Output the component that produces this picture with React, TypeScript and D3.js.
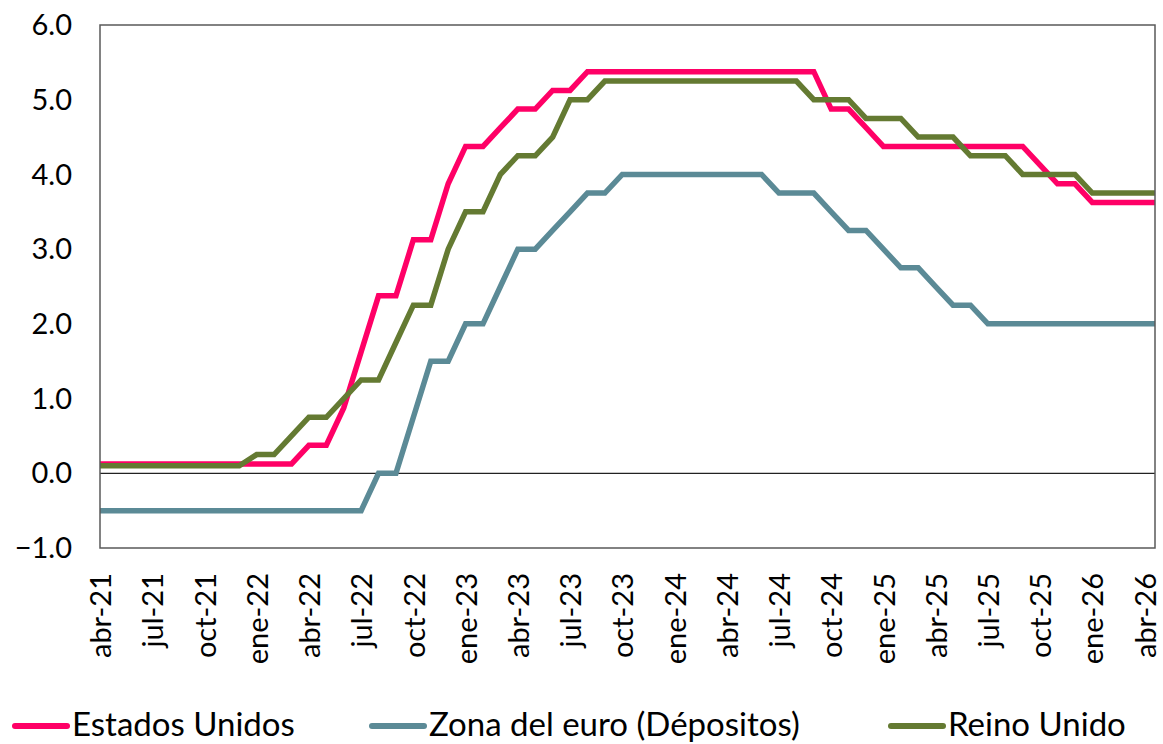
import React, { useEffect, useRef } from 'react';
import * as d3 from 'd3';

// Monthly policy rates, abr-21 .. abr-26 (61 months)
const usRate = [
  0.125, 0.125, 0.125, 0.125, 0.125, 0.125, 0.125, 0.125, 0.125, 0.125, 0.125, 0.125,
  0.375, 0.375, 0.875, 1.625, 2.375, 2.375, 3.125, 3.125, 3.875, 4.375, 4.375, 4.625,
  4.875, 4.875, 5.125, 5.125,
  5.375, 5.375, 5.375, 5.375, 5.375, 5.375, 5.375, 5.375, 5.375, 5.375, 5.375, 5.375, 5.375, 5.375,
  4.875, 4.875, 4.625,
  4.375, 4.375, 4.375, 4.375, 4.375, 4.375, 4.375, 4.375, 4.375,
  4.125, 3.875, 3.875, 3.625, 3.625, 3.625, 3.625,
];

const euroRate = [
  -0.5, -0.5, -0.5, -0.5, -0.5, -0.5, -0.5, -0.5, -0.5, -0.5, -0.5, -0.5, -0.5, -0.5, -0.5, -0.5,
  0, 0, 0.75, 1.5, 1.5, 2.0, 2.0, 2.5, 3.0, 3.0, 3.25, 3.5, 3.75, 3.75,
  4.0, 4.0, 4.0, 4.0, 4.0, 4.0, 4.0, 4.0, 4.0,
  3.75, 3.75, 3.75, 3.5, 3.25, 3.25, 3.0, 2.75, 2.75, 2.5, 2.25, 2.25,
  2.0, 2.0, 2.0, 2.0, 2.0, 2.0, 2.0, 2.0, 2.0, 2.0,
];

const ukRate = [
  0.1, 0.1, 0.1, 0.1, 0.1, 0.1, 0.1, 0.1, 0.1,
  0.25, 0.25, 0.5, 0.75, 0.75, 1.0, 1.25, 1.25, 1.75, 2.25, 2.25, 3.0, 3.5, 3.5,
  4.0, 4.25, 4.25, 4.5, 5.0, 5.0,
  5.25, 5.25, 5.25, 5.25, 5.25, 5.25, 5.25, 5.25, 5.25, 5.25, 5.25, 5.25,
  5.0, 5.0, 5.0, 4.75, 4.75, 4.75, 4.5, 4.5, 4.5, 4.25, 4.25, 4.25,
  4.0, 4.0, 4.0, 4.0, 3.75, 3.75, 3.75, 3.75,
];

const xTickLabels = [
  'abr-21', 'jul-21', 'oct-21', 'ene-22', 'abr-22', 'jul-22', 'oct-22',
  'ene-23', 'abr-23', 'jul-23', 'oct-23', 'ene-24', 'abr-24', 'jul-24',
  'oct-24', 'ene-25', 'abr-25', 'jul-25', 'oct-25', 'ene-26', 'abr-26',
];
const yTicks = [-1, 0, 1, 2, 3, 4, 5, 6];

const seriesNames = ['Estados Unidos', 'Zona del euro (Dépositos)', 'Reino Unido'];
const seriesColors = ['#ff0066', '#5b8a96', '#647a32'];

// last observation falls a little after the abr-26 mark
const axisEndMonth = 60.6;

const W = 1163;
const H = 744;
const font = 'Lato, "Open Sans", sans-serif';

export default function App() {
  const ref = useRef<SVGSVGElement>(null);

  useEffect(() => {
    const svg = d3.select(ref.current);
    svg.selectAll('*').remove();

    const margin = { top: 25, right: 8, bottom: 196, left: 100 };
    const x = d3.scaleLinear().domain([0, axisEndMonth]).range([margin.left, W - margin.right]);
    const y = d3.scaleLinear().domain([-1, 6]).range([H - margin.bottom, margin.top]);

    // y tick labels
    svg.append('g')
      .selectAll('text')
      .data(yTicks)
      .enter()
      .append('text')
      .attr('x', 72)
      .attr('y', d => y(d))
      .attr('dy', '0.35em')
      .attr('text-anchor', 'end')
      .style('font-family', font)
      .style('font-size', '29px')
      .attr('fill', '#000')
      .text(d => d3.format('.1f')(d));

    // x tick labels every 3 months
    svg.append('g')
      .selectAll('text')
      .data(xTickLabels)
      .enter()
      .append('text')
      .attr('transform', (d, i) => `translate(${x(i * 3) + 1},${H - margin.bottom + 25}) rotate(-90)`)
      .attr('dy', '0.35em')
      .attr('text-anchor', 'end')
      .style('font-family', font)
      .style('font-size', '29px')
      .attr('fill', '#000')
      .text(d => d);

    // zero line
    svg.append('line')
      .attr('x1', x(0))
      .attr('x2', x(axisEndMonth))
      .attr('y1', y(0))
      .attr('y2', y(0))
      .attr('stroke', '#222')
      .attr('stroke-width', 1.3);

    // lines, the last value held to the end of the axis
    [usRate, euroRate, ukRate].forEach((vals, k) => {
      const pts = vals.concat([vals[vals.length - 1]]);
      const path = d3.line<number>()
        .x((d, i) => x(i < vals.length ? i : axisEndMonth))
        .y(d => y(d));
      svg.append('path')
        .attr('d', path(pts))
        .attr('fill', 'none')
        .attr('stroke', seriesColors[k])
        .attr('stroke-width', 5.5)
        .attr('stroke-linejoin', 'miter');
    });

    // plot frame
    svg.append('rect')
      .attr('x', x(0))
      .attr('y', y(6))
      .attr('width', x(axisEndMonth) - x(0))
      .attr('height', y(-1) - y(6))
      .attr('fill', 'none')
      .attr('stroke', '#595959')
      .attr('stroke-width', 1.5);

    // legend
    const legendX = [15, 372, 891];
    const legendY = 724;
    const legend = svg.append('g');
    seriesNames.forEach((name, k) => {
      legend.append('line')
        .attr('x1', legendX[k])
        .attr('x2', legendX[k] + 52)
        .attr('y1', legendY + 2)
        .attr('y2', legendY + 2)
        .attr('stroke', seriesColors[k])
        .attr('stroke-width', 6)
        .attr('stroke-linecap', 'round');
      legend.append('text')
        .attr('x', legendX[k] + 57)
        .attr('y', legendY)
        .attr('dy', '0.36em')
        .style('font-family', font)
        .style('font-size', '33px')
        .attr('fill', '#000')
        .text(name);
    });
  }, []);

  return (
    <svg
      ref={ref}
      width={W}
      height={H}
      style={{ position: 'absolute', left: 0, top: 0, background: '#fff' }}
    />
  );
}
